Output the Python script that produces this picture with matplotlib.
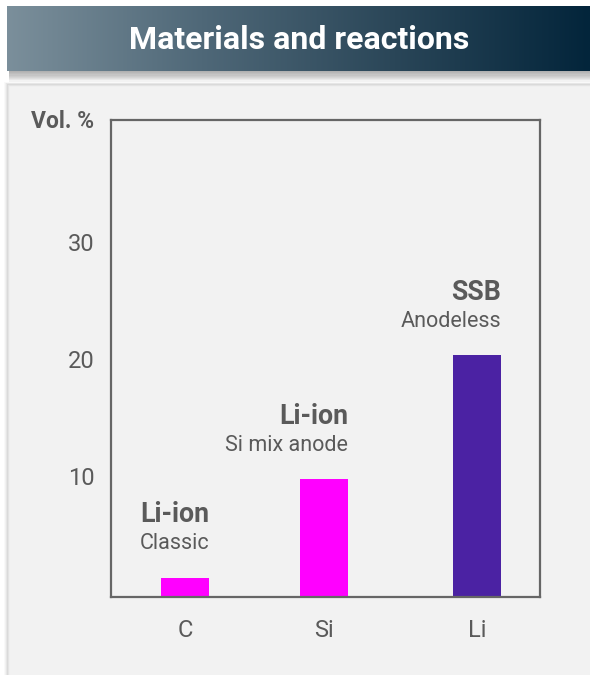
import numpy as np
import matplotlib
matplotlib.use("Agg")
import matplotlib.pyplot as plt
from matplotlib.patches import Rectangle
from matplotlib.colors import LinearSegmentedColormap

plt.rcParams['font.family'] = ['Roboto', 'DejaVu Sans']

# Data
categories = ["C", "Si", "Li"]
values = [1.3, 9.7, 20.3]
titles = ["Li-ion", "Li-ion", "SSB"]
subtitles = ["Classic", "Si mix anode", "Anodeless"]
y_ticks = [10, 20, 30]

# Layout / style
x_pos = [0, 1, 2.1]
bar_colors = ["#ff00ff", "#ff00ff", "#4b22a3"]
text_color = "#5a5a5a"
W, H = 590, 675
DPI = 100

fig = plt.figure(figsize=(W / DPI, H / DPI), dpi=DPI)
fig.patch.set_facecolor("white")

# Background layer in pixel coordinates
bg = fig.add_axes([0, 0, 1, 1], zorder=0)
bg.set_xlim(0, W)
bg.set_ylim(H, 0)
bg.axis("off")

# panel shadow + panel
for i, a in enumerate([0.05, 0.08, 0.12, 0.18]):
    bg.add_patch(Rectangle((8 - (4 - i), 84 - (4 - i) * 0.5), W, H, facecolor="#9a9a9a",
                           alpha=a, edgecolor="none"))
bg.add_patch(Rectangle((8, 85), W, H, facecolor="#f2f2f2", edgecolor="#e4e4e4", lw=1))

# header shadow
for i in range(9):
    bg.add_patch(Rectangle((9, 71), W, 1 + i * 1.2, facecolor="#707070",
                           alpha=0.08, edgecolor="none"))

# header gradient
cmap = LinearSegmentedColormap.from_list("hdr", ["#7b8f9b", "#4f6878", "#2a4658", "#03253b"])
grad = np.linspace(0, 1, 256).reshape(1, -1)
bg.imshow(grad, cmap=cmap, aspect="auto", extent=(7, W, 71, 6), zorder=2)
bg.set_xlim(0, W)
bg.set_ylim(H, 0)
bg.text((7 + W) / 2 + 1, 40, "Materials and reactions", color="white", fontsize=23,
        fontweight="bold", ha="center", va="center", zorder=3)

bg.text(94, 121, "Vol. %", color=text_color, fontsize=16.5, fontweight="bold",
        ha="right", va="center")

# Chart axes
left, right, top, bottom = 111, 540, 120, 597
ax = fig.add_axes([left / W, 1 - bottom / H, (right - left) / W, (bottom - top) / H], zorder=1)
ax.set_facecolor("none")
ymin, ymax = -0.35, 40.4
ax.set_ylim(ymin, ymax)
ax.set_xlim(-0.532, 2.554)

bw = 0.345
heights = [v - ymin for v in values]
ax.bar(x_pos, heights, bottom=ymin, width=bw, color=bar_colors, zorder=2)

for x, v, t, s in zip(x_pos, values, titles, subtitles):
    xr = x + bw / 2
    ax.annotate(s, (xr, v), xytext=(0, 24.5), textcoords="offset points",
                ha="right", va="center", fontsize=15.5, color=text_color)
    ax.annotate(t, (xr, v), xytext=(0, 45.5), textcoords="offset points",
                ha="right", va="center", fontsize=19.3, fontweight="bold", color=text_color)

ax.set_yticks(y_ticks)
ax.set_yticklabels([str(t) for t in y_ticks])
ax.set_xticks(x_pos)
ax.set_xticklabels(categories)
ax.tick_params(axis="y", length=0, pad=12, labelsize=17, labelcolor=text_color)
ax.tick_params(axis="x", length=0, pad=16, labelsize=17, labelcolor=text_color)
for sp in ax.spines.values():
    sp.set_color("#666666")
    sp.set_linewidth(1.6)

fig.savefig("out.png", dpi=DPI, facecolor=fig.get_facecolor())
